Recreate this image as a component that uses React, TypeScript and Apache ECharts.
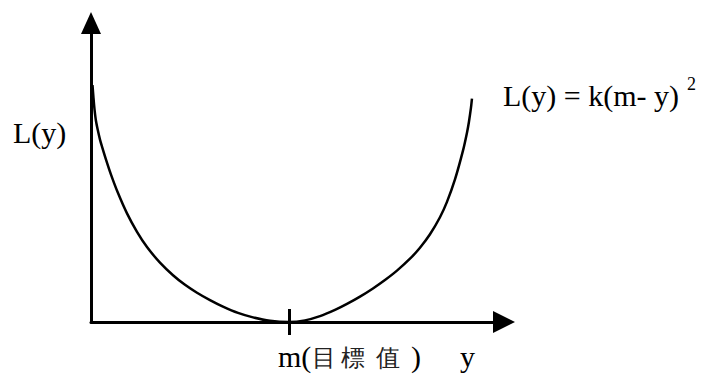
import React, { useEffect, useRef } from "react";
import * as echarts from "echarts";

// Curve (x: position along the y axis, target m = 50; value: loss L)
const curveX = [
  0.38, 0.61, 0.88, 1.26, 1.77, 2.27, 2.78, 3.79, 5.05, 6.82, 9.09, 11.62, 14.14,
  17.42, 20.71, 23.74, 26.77, 30.05, 33.33, 37.12, 40.91, 45.2, 50.0, 54.04, 57.83,
  61.62, 64.65, 67.93, 71.21, 74.24, 77.27, 80.56, 83.08, 85.61, 88.13, 89.9, 91.92,
  93.94, 94.95, 95.45, 95.96, 96.21,
];
const curveY = [
  76.7, 72.82, 68.93, 65.05, 61.81, 59.06, 56.8, 52.59, 47.73, 41.75, 35.18, 29.19,
  24.27, 19.22, 15.15, 12.04, 9.48, 7.09, 4.98, 2.94, 1.49, 0.39, 0.0, 0.52, 1.88,
  3.92, 5.86, 8.22, 10.87, 13.59, 16.63, 20.49, 24.05, 28.41, 33.92, 38.9, 46.15,
  55.47, 61.29, 64.85, 69.39, 72.3,
];
const targetM = 50;
const tickValues = [targetM];
const yAxisLabel = "L(y)";
const formulaText = "L(y) = k(m- y)";
const formulaExp = "2";
const xAxisLabel = "y";
const mLabelParts = ["m(", "目", "標", "值", ")"];

export default function App() {
  const ref = useRef<HTMLDivElement>(null);
  useEffect(() => {
    const chart = echarts.init(ref.current!, null, { renderer: "svg" });
    const serif = "Liberation Serif";
    const axisStyle = { color: "#000", width: 3 };
    const txt = (text: string, x: number, y: number, size: number, fill = "#000") => ({
      type: "text",
      x,
      y,
      style: { text, fontSize: size, fontFamily: serif, fill },
    });
    chart.setOption({
      animation: false,
      backgroundColor: "#fff",
      textStyle: { fontFamily: serif },
      grid: { left: 91, right: 197, top: 23, bottom: 54 },
      xAxis: [
        {
          type: "value",
          min: 0,
          max: 104.3,
          axisLine: {
            show: true,
            lineStyle: axisStyle,
            symbol: ["none", "triangle"],
            symbolSize: [22, 22],
          },
          axisTick: {
            show: true,
            customValues: tickValues,
            length: 13,
            lineStyle: { color: "#000", width: 3 },
          },
          axisLabel: { show: false },
          splitLine: { show: false },
        },
        {
          type: "value",
          min: 0,
          max: 104.3,
          position: "bottom",
          axisLine: { show: false },
          axisTick: {
            show: true,
            inside: true,
            customValues: tickValues,
            length: 13,
            lineStyle: { color: "#000", width: 3 },
          },
          axisLabel: { show: false },
          splitLine: { show: false },
        },
      ],
      yAxis: {
        type: "value",
        min: 0,
        max: 96.8,
        axisLine: {
          show: true,
          lineStyle: axisStyle,
          symbol: ["none", "triangle"],
          symbolSize: [20, 22],
        },
        axisTick: { show: false },
        axisLabel: { show: false },
        splitLine: { show: false },
      },
      series: [
        {
          type: "line",
          data: curveX.map((x, i) => [x, curveY[i]]),
          smooth: 0.3,
          showSymbol: false,
          symbol: "none",
          clip: false,
          lineStyle: { color: "#000", width: 2.5 },
        },
      ],
      graphic: [
        txt(yAxisLabel, 13, 117, 30),
        txt(formulaText, 503, 80, 30),
        txt(formulaExp, 687, 75, 18),
        txt(xAxisLabel, 460, 341, 30),
        txt(mLabelParts[0], 278, 341, 30),
        txt(mLabelParts[1], 312, 346, 24, "#222"),
        txt(mLabelParts[2], 341, 346, 24, "#222"),
        txt(mLabelParts[3], 376, 346, 24, "#222"),
        txt(mLabelParts[4], 411, 341, 30),
      ],
    });
    return () => chart.dispose();
  }, []);
  return (
    <div
      ref={ref}
      style={{ position: "fixed", left: 0, top: 0, width: 701, height: 376 }}
    />
  );
}
